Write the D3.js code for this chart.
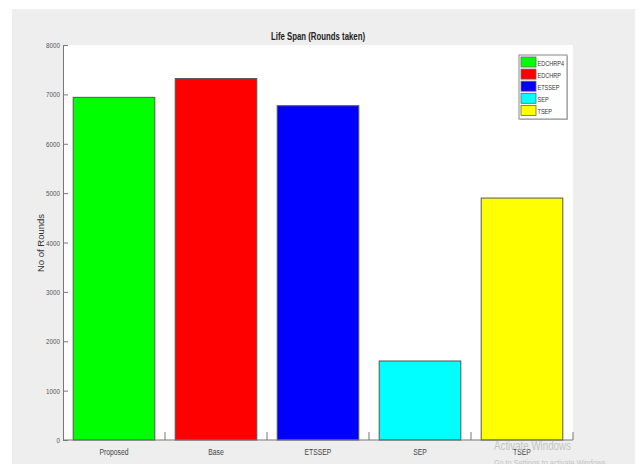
<!DOCTYPE html>
<html>
<head>
<meta charset="utf-8">
<script src="https://cdn.jsdelivr.net/npm/d3@7"></script>
<style>
  html, body { margin: 0; padding: 0; background: #ffffff; }
  svg { display: block; }
  text { font-family: "Liberation Sans", Arial, sans-serif; }
</style>
</head>
<body>
<svg id="chart" width="640" height="464"></svg>
<script>
// Network lifetime (rounds) per protocol
const categories = ["Proposed", "Base", "ETSSEP", "SEP", "TSEP"];
const rounds = [6940, 7320, 6770, 1600, 4900];
const seriesNames = ["EDCHRP4", "EDCHRP", "ETSSEP", "SEP", "TSEP"];
const barColors = ["#00ff00", "#ff0000", "#0000ff", "#00ffff", "#ffff00"];
const yTicks = [0, 1000, 2000, 3000, 4000, 5000, 6000, 7000, 8000];

const svg = d3.select("#chart");
const W = 640, H = 464;
const plot = { left: 63, right: 573, top: 45, bottom: 440 };

// squeeze text horizontally to mimic a narrow face
function condense(sel, f) {
  sel.each(function () {
    const len = this.getComputedTextLength();
    d3.select(this).attr("textLength", len * f).attr("lengthAdjust", "spacingAndGlyphs");
  });
}

// figure background
svg.append("rect").attr("x", 12).attr("y", 9).attr("width", 623).attr("height", H - 9)
  .attr("fill", "#eeeeee");

// axes area
svg.append("rect").attr("x", plot.left).attr("y", plot.top)
  .attr("width", plot.right - plot.left).attr("height", plot.bottom - plot.top)
  .attr("fill", "#ffffff");

const x = d3.scaleBand().domain(categories).range([plot.left, plot.right]).paddingInner(0).paddingOuter(0);
const y = d3.scaleLinear().domain([0, 8000]).range([plot.bottom, plot.top]);
const barW = x.bandwidth() * 0.8;

// bars
svg.append("g").selectAll("rect").data(categories).join("rect")
  .attr("x", d => x(d) + (x.bandwidth() - barW) / 2)
  .attr("y", (d, i) => y(rounds[i]))
  .attr("width", barW)
  .attr("height", (d, i) => y(0) - y(rounds[i]))
  .attr("fill", (d, i) => barColors[i])
  .attr("stroke", "#555555")
  .attr("stroke-width", 1);

// y axis
const yAxis = d3.axisLeft(y).tickValues(yTicks).tickFormat(d3.format("d"))
  .tickSizeInner(-5).tickSizeOuter(0);
const gy = svg.append("g").attr("transform", `translate(${plot.left},0)`).call(yAxis);
gy.select(".domain").attr("stroke", "#777777");
gy.selectAll(".tick line").attr("stroke", "#777777");
gy.selectAll(".tick text").attr("fill", "#555555")
  .attr("font-size", 8).attr("x", -3).attr("font-family", "Liberation Sans, Arial, sans-serif")
  .call(condense, 0.78);

// x axis: labels centred under bars, tick marks between bars
const gx = svg.append("g").attr("transform", `translate(0,${plot.bottom})`);
gx.append("line").attr("x1", plot.left).attr("x2", plot.right).attr("y1", 0).attr("y2", 0)
  .attr("stroke", "#777777");
const boundaries = categories.slice(1).map(c => x(c)).concat([plot.right]);
gx.selectAll("line.tk").data(boundaries).join("line").attr("class", "tk")
  .attr("x1", d => d).attr("x2", d => d).attr("y1", 0).attr("y2", -8)
  .attr("stroke", "#777777");
gx.selectAll("text").data(categories).join("text")
  .attr("x", d => x(d) + x.bandwidth() / 2)
  .attr("y", 15)
  .attr("text-anchor", "middle")
  .attr("font-size", 8.5)
  .attr("fill", "#444444")
  .text(d => d)
  .call(condense, 0.8);

// title
svg.append("text")
  .attr("x", (plot.left + plot.right) / 2).attr("y", 40)
  .attr("text-anchor", "middle").attr("font-size", 10).attr("font-weight", "bold")
  .attr("fill", "#222222")
  .text("Life Span (Rounds taken)")
  .call(condense, 0.78);

// y label
svg.append("text")
  .attr("transform", `translate(44,243) rotate(-90)`)
  .attr("text-anchor", "middle")
  .attr("font-size", 9.5).attr("fill", "#333333")
  .text("No of Rounds");

// legend
const lg = svg.append("g").attr("transform", "translate(519,55)");
lg.append("rect").attr("x", 1).attr("y", 1).attr("width", 48).attr("height", 64).attr("fill", "#cccccc");
lg.append("rect").attr("width", 48).attr("height", 64).attr("fill", "#ffffff")
  .attr("stroke", "#888888").attr("stroke-width", 1);
const items = lg.selectAll("g.item").data(seriesNames).join("g").attr("class", "item")
  .attr("transform", (d, i) => `translate(2,${2 + i * 12.1})`);
items.append("rect").attr("width", 15).attr("height", 10)
  .attr("fill", (d, i) => barColors[i]).attr("stroke", "#666666").attr("stroke-width", 0.8);
items.append("text")
  .attr("x", 16.5).attr("y", 8.5).attr("font-size", 7.5).attr("fill", "#333333")
  .text(d => d)
  .call(condense, 0.74);

// desktop watermark
svg.append("text").attr("x", 494).attr("y", 450)
  .attr("font-size", 12.5).attr("fill", "#c4c4c4").text("Activate Windows")
  .call(condense, 0.78);
svg.append("text").attr("x", 494).attr("y", 466)
  .attr("font-size", 9).attr("fill", "#c4c4c4").text("Go to Settings to activate Windows")
  .call(condense, 0.8);
</script>
</body>
</html>
